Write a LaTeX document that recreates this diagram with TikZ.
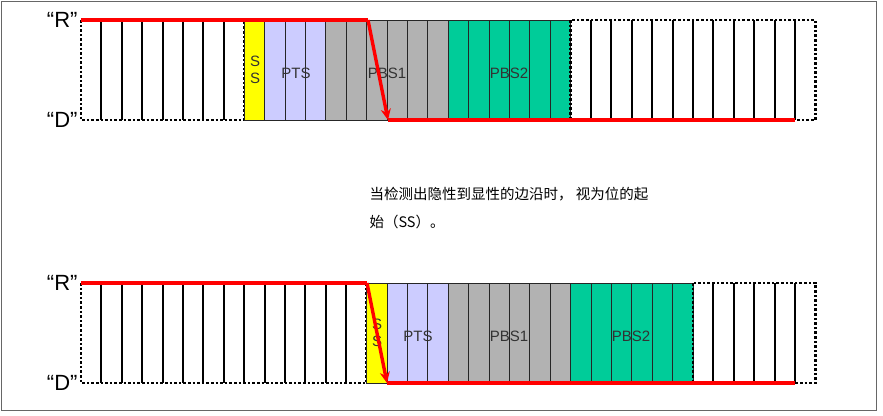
\documentclass[tikz,border=0pt]{standalone}
\usepackage{fontspec}
\setmainfont{Liberation Sans}
\newfontfamily\cjk{Noto Sans CJK SC}
\usetikzlibrary{positioning, arrows.meta}

\definecolor{ssyellow}{RGB}{255,255,0}
\definecolor{ptsblue}{RGB}{204,204,255}
\definecolor{pbsgray}{RGB}{178,178,178}
\definecolor{pbsgreen}{RGB}{0,204,153}

% one coloured segment: #1 start cell, #2 cells, #3 fill, #4 top y
\newcommand{\bitseg}[4]{%
  \foreach \i in {1,...,#2} {
    \fill[#3] ({81+(#1+\i-1)*20.4},#4) rectangle ++(20.4,100);
    \draw[cellline] ({81+(#1+\i-1)*20.4},#4) rectangle ++(20.4,100);
  }}
% idle (dotted) segment
\newcommand{\idleseg}[3]{%
  \draw[idle] ({81+#1*20.4},#3) rectangle ++({#2*20.4},100);
  \foreach \i in {1,...,#2} {
    \ifnum\i<#2
      \draw[line width=2pt] ({81+(#1+\i)*20.4},#3) -- ++(0,100);
    \fi
  }}

\begin{document}
\begin{tikzpicture}[x=1pt, y=-1pt,
    cellline/.style={draw=black!85, line width=1pt},
    idle/.style={draw=black, line width=2.6pt, dotted},
    level/.style={font=\fontsize{22}{22}\selectfont, anchor=east},
    field/.style={font=\fontsize{15}{15}\selectfont, text=black!80},
    signal/.style={red, line width=3.4pt, line join=round},
    note/.style={font=\cjk\fontsize{14.5}{28}\selectfont, align=left, anchor=north west}
]
    \useasboundingbox (0,0) rectangle (883,415);
    \draw[black!60, line width=1pt] (1,1) rectangle (876,410);

    % top frame
    \idleseg{0}{8}{20}
    \bitseg{8}{1}{ssyellow}{20}
    \bitseg{9}{3}{ptsblue}{20}
    \bitseg{12}{6}{pbsgray}{20}
    \bitseg{18}{6}{pbsgreen}{20}
    \idleseg{24}{12}{20}
    \node[field, align=center, font=\fontsize{15}{17}\selectfont] (ss1) at (255,70) {S\\S};
    \node[field] (pts1) at (296,73) {PTS};
    \node[field] (pbsa1) at (387,73) {PBS1};
    \node[field] (pbsb1) at (509,73) {PBS2};
    \node[level] (r1) at (81,20) {“R”};
    \node[level] (d1) at (81,120) {“D”};
    \coordinate (r1a) at (81,20);
    \coordinate (r1b) at (368,20);
    \coordinate (d1a) at (388,120);
    \coordinate (d1b) at (795,120);
    \draw[signal] (r1a) -- (r1b);
    \draw[signal, -{Stealth[length=11pt, width=10pt]}] (r1b) -- (d1a);
    \draw[signal] (d1a) -- (d1b);

    % note
    \node[note] (note) at (366,184) {当检测出隐性到显性的边沿时， 视为位的起\\始（SS）。};

    % bottom frame
    \idleseg{0}{14}{283}
    \bitseg{14}{1}{ssyellow}{283}
    \bitseg{15}{3}{ptsblue}{283}
    \bitseg{18}{6}{pbsgray}{283}
    \bitseg{24}{6}{pbsgreen}{283}
    \idleseg{30}{6}{283}
    \node[field, align=center, font=\fontsize{15}{17}\selectfont] (ss2) at (377,333) {S\\S};
    \node[field] (pts2) at (418,336) {PTS};
    \node[field] (pbsa2) at (509,336) {PBS1};
    \node[field] (pbsb2) at (631,336) {PBS2};
    \node[level] (r2) at (81,283) {“R”};
    \node[level] (d2) at (81,383) {“D”};
    \coordinate (r2a) at (81,283);
    \coordinate (r2b) at (367,283);
    \coordinate (d2a) at (387,383);
    \coordinate (d2b) at (795,383);
    \draw[signal] (r2a) -- (r2b);
    \draw[signal, -{Stealth[length=11pt, width=10pt]}] (r2b) -- (d2a);
    \draw[signal] (d2a) -- (d2b);
\end{tikzpicture}
\end{document}
